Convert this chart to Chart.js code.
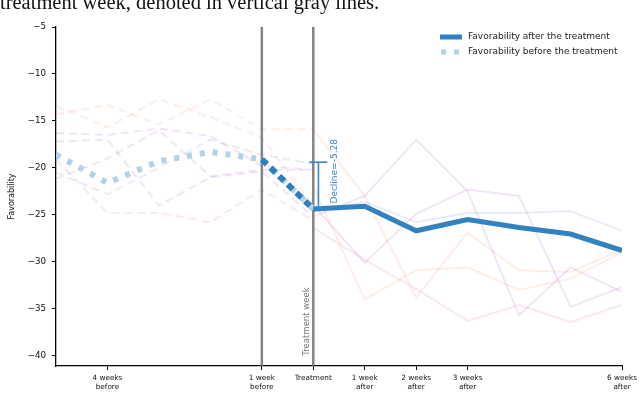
<!DOCTYPE html>
<html>
<head>
<meta charset="utf-8">
<script src="https://cdn.jsdelivr.net/npm/chart.js@4.4.1/dist/chart.umd.min.js"></script>
<style>
  html, body { margin: 0; padding: 0; background: #fff; }
  #wrap { position: relative; width: 640px; height: 395px; overflow: hidden; }
  #caption { position: absolute; left: 0; top: -9px; font-family: "Liberation Serif", "DejaVu Serif", serif; font-size: 20.5px; color: #111; white-space: nowrap; }
  canvas { position: absolute; left: 0; top: 0; }
</style>
</head>
<body>
<div id="wrap">
  <canvas id="chart" width="640" height="395"></canvas>
  <div id="caption">treatment week, denoted in vertical gray lines.</div>
</div>
<script>
// weeks relative to the treatment week
var beforeWeeks = [-5, -4, -3, -2, -1, 0];
var afterWeeks = [0, 1, 2, 3, 4, 5, 6];
var tickWeeks = [-4, -1, 0, 1, 2, 3, 6];
var tickLabels = [['4 weeks', 'before'], ['1 week', 'before'], ['Treatment'], ['1 week', 'after'], ['2 weeks', 'after'], ['3 weeks', 'after'], ['6 weeks', 'after']];
var yTicks = [-40, -35, -30, -25, -20, -15, -10, -5];

// main series
var favBefore = [-18.6, -21.6, -19.3, -18.3, -19.1, -24.38];
var favAfter = [-24.38, -24.1, -26.7, -25.5, -26.35, -27.05, -28.8];
var transWeeks = [-1, 0];
var transValues = [-19.1, -24.38];

// decline marker
var declineWeek = 0.1;
var declineTop = -19.4;
var declineBottom = -24.38;
var declineCap = [-0.08, 0.27];

// faded individual series before the treatment (dashed)
var fadedBefore1 = [-13.4, -15.7, -12.7, -14.6, -16.8, -24.0];
var fadedBefore2 = [-14.3, -13.3, -15.4, -12.7, -15.9, -15.9];
var fadedBefore3 = [-16.3, -16.5, -15.8, -16.6, -19.8, -20.2];
var fadedBefore4 = [-20.5, -22.8, -20.0, -17.0, -18.6, -19.6];
var fadedBefore5 = [-21.2, -19.0, -16.0, -20.9, -20.2, -20.2];
var fadedBefore6 = [-17.2, -17.0, -24.0, -21.0, -20.4, -25.2];
var fadedBefore7 = [-19.1, -24.8, -24.8, -25.8, -22.3, -25.6];

// faded individual series after the treatment (solid)
var fadedAfter1 = [-24.0, -30.1, -24.9, -22.3, -23.0, -34.8, -32.7];
var fadedAfter2 = [-25.2, -23.0, -17.0, -22.5, -35.7, -30.6, -33.2];
var fadedAfter3 = [-24.7, -23.6, -25.8, -24.8, -24.8, -24.6, -26.7];
var fadedAfter4 = [-22.0, -34.0, -30.9, -30.6, -33.0, -31.8, -29.0];
var fadedAfter5 = [-15.9, -23.0, -33.8, -26.9, -30.9, -31.1, -28.7];
var fadedAfter6 = [-26.4, -29.8, -32.9, -36.3, -34.6, -36.4, -34.6];

var yMin = -41.1, yMax = -5;

var peach = 'rgba(248,150,105,0.17)';
var pink = 'rgba(226,110,150,0.16)';
var purple = 'rgba(165,95,205,0.16)';
var lavender = 'rgba(130,130,210,0.16)';

function pts(xs, ys){
    var out = [];
    for(var i = 0; i < xs.length; i++){
        out.push({x: xs[i], y: ys[i]});
    }
    return out;
}

function faded(xs, ys, color, dashed){
    return {
        data: pts(xs, ys),
        borderColor: color,
        borderWidth: 2,
        borderDash: dashed ? [8, 5] : [],
        pointRadius: 0,
        tension: 0,
        order: 10
    };
}

var datasets = [
    faded(beforeWeeks, fadedBefore1, peach, true),
    faded(beforeWeeks, fadedBefore2, peach, true),
    faded(beforeWeeks, fadedBefore3, purple, true),
    faded(beforeWeeks, fadedBefore4, lavender, true),
    faded(beforeWeeks, fadedBefore5, purple, true),
    faded(beforeWeeks, fadedBefore6, purple, true),
    faded(beforeWeeks, fadedBefore7, pink, true),
    faded(afterWeeks, fadedAfter1, purple, false),
    faded(afterWeeks, fadedAfter2, purple, false),
    faded(afterWeeks, fadedAfter3, lavender, false),
    faded(afterWeeks, fadedAfter4, peach, false),
    faded(afterWeeks, fadedAfter5, peach, false),
    faded(afterWeeks, fadedAfter6, pink, false),
    // vertical gray lines
    {data: pts([-1, -1], [yMax, yMin]), borderColor: 'rgba(110,110,110,0.85)', borderWidth: 2.5, pointRadius: 0, order: 6},
    {data: pts([0, 0], [yMax, yMin]), borderColor: 'rgba(110,110,110,0.85)', borderWidth: 2.5, pointRadius: 0, order: 6},
    // main lines
    {label: 'Favorability before the treatment', data: pts(beforeWeeks, favBefore), borderColor: '#b3d2e8', borderWidth: 6, borderDash: [5, 8], borderCapStyle: 'butt', pointRadius: 0, order: 4},
    {data: pts(transWeeks, transValues), borderColor: '#2f7fc0', borderWidth: 6, borderDash: [7, 5], borderCapStyle: 'butt', pointRadius: 0, order: 3},
    {label: 'Favorability after the treatment', data: pts(afterWeeks, favAfter), borderColor: '#3182c1', borderWidth: 5, pointRadius: 0, borderJoinStyle: 'miter', order: 2},
    // decline bar
    {data: pts([declineWeek, declineWeek], [declineTop, declineBottom]), borderColor: '#3a86c6', borderWidth: 1.6, pointRadius: 0, order: 1},
    {data: pts(declineCap, [declineTop, declineTop]), borderColor: '#3a86c6', borderWidth: 1.6, pointRadius: 0, order: 1}
];

var textPlugin = {
    id: 'texts',
    afterDatasetsDraw: function(chart){
        var ctx = chart.ctx;
        var xs = chart.scales.x, ys = chart.scales.y;
        ctx.save();
        // decline label
        ctx.font = '9px "DejaVu Sans"';
        ctx.fillStyle = '#3a86c6';
        ctx.textAlign = 'left';
        ctx.textBaseline = 'middle';
        ctx.translate(xs.getPixelForValue(0.41), ys.getPixelForValue(-23.8));
        ctx.rotate(-Math.PI / 2);
        ctx.fillText('Decline=-5.28', 0, 0);
        ctx.restore();

        ctx.save();
        ctx.font = '8.5px "DejaVu Sans"';
        ctx.fillStyle = '#777';
        ctx.textAlign = 'left';
        ctx.textBaseline = 'middle';
        ctx.translate(xs.getPixelForValue(-0.13), ys.getPixelForValue(-40.0));
        ctx.rotate(-Math.PI / 2);
        ctx.fillText('Treatment week', 0, 0);
        ctx.restore();

        // legend
        ctx.save();
        ctx.lineCap = 'butt';
        ctx.strokeStyle = '#3182c1';
        ctx.lineWidth = 5;
        ctx.beginPath();
        ctx.moveTo(440, 37);
        ctx.lineTo(462, 37);
        ctx.stroke();
        ctx.strokeStyle = '#b3d2e8';
        ctx.setLineDash([5, 8]);
        ctx.beginPath();
        ctx.moveTo(441, 52);
        ctx.lineTo(463, 52);
        ctx.stroke();
        ctx.setLineDash([]);
        ctx.font = '9px "DejaVu Sans"';
        ctx.fillStyle = '#222';
        ctx.textAlign = 'left';
        ctx.textBaseline = 'middle';
        ctx.fillText('Favorability after the treatment', 468, 37);
        ctx.fillText('Favorability before the treatment', 468, 52);
        ctx.restore();
    }
};

var ctx = document.getElementById('chart');
var chart = new Chart(ctx, {
    type: 'line',
    data: {datasets: datasets},
    plugins: [textPlugin],
    options: {
        responsive: false,
        animation: false,
        layout: {padding: {top: 27, right: 15, left: 0, bottom: 0}},
        scales: {
            x: {
                type: 'linear',
                min: -5,
                max: 6,
                afterBuildTicks: function(s){ s.ticks = tickWeeks.map(function(v){ return {value: v}; }); },
                afterFit: function(s){ s.height = 29; },
                grid: {display: true, drawOnChartArea: false, tickLength: 4, color: '#000', tickWidth: 1},
                border: {display: true, color: '#000', width: 1.3},
                ticks: {
                    autoSkip: false,
                    maxRotation: 0,
                    padding: 3,
                    color: '#111',
                    font: {family: 'DejaVu Sans', size: 7.3, lineHeight: 1.3},
                    callback: function(v){
                        var i = tickWeeks.indexOf(v);
                        return i >= 0 ? tickLabels[i] : '';
                    }
                }
            },
            y: {
                type: 'linear',
                min: yMin,
                max: yMax,
                afterBuildTicks: function(s){ s.ticks = yTicks.map(function(v){ return {value: v}; }); },
                afterFit: function(s){ s.width = 56; },
                grid: {display: true, drawOnChartArea: false, tickLength: 4, color: '#000', tickWidth: 1},
                border: {display: true, color: '#000', width: 1.3},
                title: {display: true, text: 'Favorability', color: '#111', font: {family: 'DejaVu Sans', size: 8}, padding: {top: 7, bottom: 0}},
                ticks: {
                    padding: 6,
                    color: '#111',
                    font: {family: 'DejaVu Sans', size: 8.7},
                    callback: function(v){ return v < 0 ? '\u2212' + Math.abs(v) : String(v); }
                }
            }
        },
        plugins: {
            legend: {display: false},
            tooltip: {enabled: false}
        }
    }
});
</script>
</body>
</html>
